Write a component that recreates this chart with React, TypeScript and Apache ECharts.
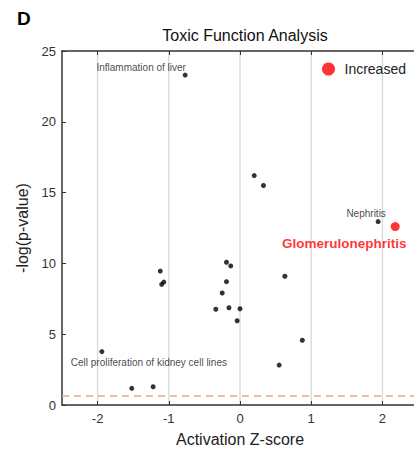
import React, { useEffect, useRef } from "react";
import * as echarts from "echarts";

const xTicks = [-2, -1, 0, 1, 2];
const yTicks = [0, 5, 10, 15, 20, 25];

const pointNames = [
  "Inflammation of liver", "", "", "Nephritis", "", "", "", "", "", "", "",
  "", "", "", "", "", "", "Cell proliferation of kidney cell lines", "", "", "",
];
const zScores = [
  -0.77, 0.2, 0.33, 1.94, -1.12, -0.19, -0.13, 0.63, -0.19, -1.1, -1.07,
  -0.25, -0.34, -0.155, 0.0, -0.04, 0.875, -1.94, 0.55, -1.52, -1.22,
];
const negLogP = [
  23.3, 16.2, 15.5, 12.95, 9.46, 10.08, 9.82, 9.09, 8.71, 8.52, 8.68,
  7.91, 6.76, 6.87, 6.8, 5.95, 4.57, 3.77, 2.82, 1.18, 1.29,
];

const increasedNames = ["Glomerulonephritis"];
const increasedZ = [2.18];
const increasedP = [12.6];

const threshold = 0.66;

const FONT = "Liberation Sans, Arial, Helvetica, sans-serif";

const labelOffsets: Record<string, [number, number]> = {
  "Inflammation of liver": [-44, -8],
  Nephritis: [-12, -8],
  "Cell proliferation of kidney cell lines": [47, 11],
  Glomerulonephritis: [-51, 17],
};

export default function App() {
  const ref = useRef<HTMLDivElement>(null);
  useEffect(() => {
    if (!ref.current) return;
    const chart = echarts.init(ref.current, undefined, { renderer: "svg" });
    const blackData = zScores.map((z, i) => {
      const name = pointNames[i];
      const item: any = { name, value: [z, negLogP[i]] };
      if (name) {
        item.label = {
          show: true,
          position: "inside",
          offset: labelOffsets[name],
          formatter: "{b}",
          color: "#111",
          fontSize: 10,
          fontFamily: FONT,
        };
      }
      return item;
    });
    const redData = increasedZ.map((z, i) => ({
      name: increasedNames[i],
      value: [z, increasedP[i]],
      label: {
        show: true,
        position: "inside",
        offset: labelOffsets[increasedNames[i]],
        formatter: "{b}",
        color: "#ff0000",
        fontSize: 13.5,
        fontWeight: "bold",
        fontFamily: FONT,
      },
    }));
    const axisLine = { show: true, onZero: false, lineStyle: { color: "#333", width: 1.5 } };
    const tick = { show: true, inside: true, length: 4, lineStyle: { color: "#333", width: 1 } };
    chart.setOption({
      animation: false,
      textStyle: { fontFamily: FONT },
      title: {
        text: "Toxic Function Analysis",
        left: 240,
        textAlign: "center",
        top: 22,
        textStyle: { fontSize: 16, fontWeight: "normal", color: "#111", fontFamily: FONT },
      },
      graphic: [
        {
          type: "text",
          left: 17,
          top: 9,
          style: { text: "D", fontSize: 19, fontWeight: "bold", fill: "#000", fontFamily: FONT },
        },
      ],
      legend: {
        data: ["Increased"],
        left: 317,
        top: 57,
        icon: "circle",
        itemWidth: 14,
        itemHeight: 13,
        itemGap: 5,
        textStyle: { fontSize: 14, color: "#222", fontFamily: FONT, padding: [0, 0, 0, 4] },
      },
      grid: { left: 62, top: 51, bottom: 44, right: -4, outerBoundsMode: "none", containLabel: false },
      xAxis: [
        {
          type: "value",
          min: -2.5,
          max: 2.5,
          interval: 1,
          position: "bottom",
          axisLine,
          axisTick: { ...tick, customValues: xTicks },
          axisLabel: {
            customValues: xTicks,
            fontSize: 13,
            color: "#333",
            margin: 7,
            fontFamily: FONT,
          },
          splitLine: { show: false },
          name: "Activation Z-score",
          nameLocation: "middle",
          nameGap: 26,
          nameTextStyle: { fontSize: 16, color: "#222", fontFamily: FONT },
        },
        {
          type: "value",
          min: -2.5,
          max: 2.5,
          position: "top",
          axisLine,
          axisTick: { ...tick, customValues: xTicks },
          axisLabel: { show: false },
          splitLine: { show: false },
        },
      ],
      yAxis: [
        {
          type: "value",
          min: 0,
          max: 25,
          interval: 5,
          position: "left",
          axisLine,
          axisTick: tick,
          axisLabel: { fontSize: 13, color: "#333", margin: 6, fontFamily: FONT },
          splitLine: { show: false },
          name: "-log(p-value)",
          nameLocation: "middle",
          nameGap: 26,
          nameTextStyle: { fontSize: 16, color: "#222", fontFamily: FONT },
        },
        {
          type: "value",
          min: 0,
          max: 25,
          interval: 5,
          position: "right",
          axisLine,
          axisTick: tick,
          axisLabel: { show: false },
          splitLine: { show: false },
        },
      ],
      series: [
        {
          type: "line",
          data: [],
          silent: true,
          markLine: {
            silent: true,
            symbol: "none",
            label: { show: false },
            lineStyle: { color: "#f4a07e", type: [7, 5], width: 1.5 },
            data: [{ yAxis: threshold }],
          },
        },
        {
          type: "custom",
          silent: true,
          data: xTicks.map((v) => [v]),
          renderItem: (params: any, api: any) => {
            const x = api.coord([api.value(0), 0])[0];
            const cs = params.coordSys;
            return {
              type: "line",
              shape: { x1: x, y1: cs.y, x2: x, y2: cs.y + cs.height },
              style: { stroke: "#dcdcdc", lineWidth: 1.5 },
              z2: -10,
            };
          },
          z: 0,
        },
        {
          name: "Not significant",
          type: "scatter",
          symbolSize: 5,
          itemStyle: { color: "#000" },
          data: blackData,
          z: 3,
        },
        {
          name: "Increased",
          type: "scatter",
          symbolSize: 9,
          itemStyle: { color: "#ff0000" },
          data: redData,
          z: 4,
        },
      ],
    });
    return () => chart.dispose();
  }, []);
  return (
    <div
      ref={ref}
      style={{ position: "fixed", left: 0, top: 0, width: 414, height: 449, background: "#fff" }}
    />
  );
}
